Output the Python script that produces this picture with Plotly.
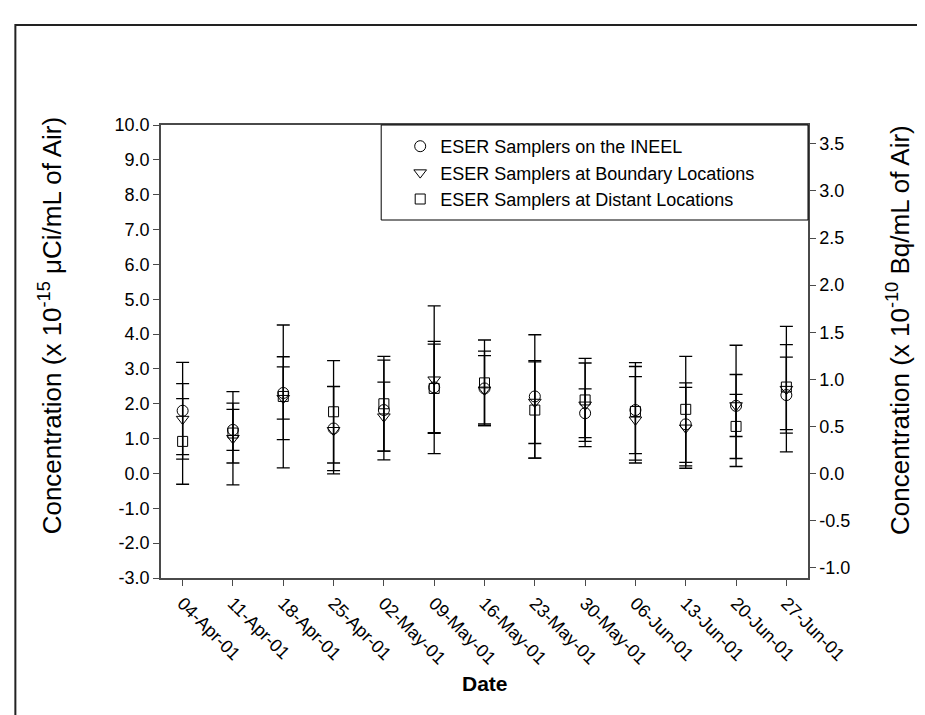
import plotly.graph_objects as go

dates = ["04-Apr-01", "11-Apr-01", "18-Apr-01", "25-Apr-01", "02-May-01", "09-May-01",
         "16-May-01", "23-May-01", "30-May-01", "06-Jun-01", "13-Jun-01", "20-Jun-01", "27-Jun-01"]

ineel_val = [1.80, 1.25, 2.31, 1.29, 1.82, 2.47, 2.44, 2.21, 1.73, 1.82, 1.41, 1.94, 2.25]
ineel_err = [1.39, 0.59, 0.75, 1.21, 1.43, 1.32, 1.07, 1.77, 0.70, 1.25, 1.19, 1.74, 1.09]

boundary_val = [1.56, 1.01, 2.16, 1.24, 1.63, 2.69, 2.40, 2.05, 1.97, 1.54, 1.31, 1.95, 2.42]
boundary_err = [1.02, 1.34, 1.19, 1.25, 0.99, 2.12, 0.98, 1.19, 1.20, 1.24, 1.16, 0.89, 1.80]

distant_val = [0.92, 1.16, 2.21, 1.77, 2.00, 2.44, 2.60, 1.82, 2.11, 1.78, 1.84, 1.35, 2.48]
distant_err = [1.23, 0.86, 2.05, 1.47, 1.36, 1.27, 1.23, 1.38, 1.19, 1.40, 1.52, 0.92, 1.22]

names = ["ESER Samplers on the INEEL", "ESER Samplers at Boundary Locations",
         "ESER Samplers at Distant Locations"]

left_ticks = [-3.0, -2.0, -1.0, 0.0, 1.0, 2.0, 3.0, 4.0, 5.0, 6.0, 7.0, 8.0, 9.0, 10.0]
left_labels = ["-3.0", "-2.0", "-1.0", "0.0", "1.0", "2.0", "3.0", "4.0", "5.0", "6.0",
               "7.0", "8.0", "9.0", "10.0"]
right_ticks = [-1.0, -0.5, 0.0, 0.5, 1.0, 1.5, 2.0, 2.5, 3.0, 3.5]
right_labels = ["-1.0", "-0.5", "0.0", "0.5", "1.0", "1.5", "2.0", "2.5", "3.0", "3.5"]

left_range = [-3.0, 10.0]
conv = 0.37  # 1e-15 uCi = 0.37e-10 Bq

# pixel layout helpers
PL, PR, PT, PB = 152.7, 800.0, 117.0, 570.0
def px(x):
    return (x - PL) / (PR - PL)
def py(y):
    return (PB - y) / (PB - PT)

fig = go.Figure()
series = [(ineel_val, ineel_err, "circle-open", 11),
          (boundary_val, boundary_err, "triangle-down-open", 11),
          (distant_val, distant_err, "square-open", 10)]
for (vals, errs, sym, sz), nm in zip(series, names):
    fig.add_trace(go.Scatter(
        x=dates, y=vals, mode="markers", name=nm,
        marker=dict(symbol=sym, size=sz, color="black", line=dict(width=1, color="black")),
        error_y=dict(type="data", array=errs, visible=True, color="black", thickness=1.3, width=6.5),
    ))

# right axis companion (same data on the Bq scale, invisible)
fig.add_trace(go.Scatter(x=dates, y=[v * conv for v in ineel_val], yaxis="y2",
                         mode="markers", marker=dict(opacity=0), showlegend=False, hoverinfo="skip"))

axis_col = "#4a4a4a"
fig.update_layout(
    width=925, height=715,
    margin=dict(l=PL, r=925 - PR, t=PT, b=715 - PB),
    paper_bgcolor="white", plot_bgcolor="white",
    font=dict(family="Liberation Sans, Arial, sans-serif", color="black", size=18),
    showlegend=True,
    legend=dict(x=px(392), y=py(120), xanchor="left", yanchor="top",
                bgcolor="rgba(0,0,0,0)", borderwidth=0,
                font=dict(size=18, color="black"), tracegroupgap=0),
    xaxis=dict(type="category", range=[-0.43, 12.43], showgrid=False, zeroline=False,
               showline=True, linecolor=axis_col, linewidth=1.5, mirror=True,
               ticks="outside", ticklen=6, tickcolor=axis_col, tickangle=45,
               tickfont=dict(size=18), title=None),
    yaxis=dict(range=left_range, tickvals=left_ticks, ticktext=left_labels,
               showgrid=False, zeroline=False,
               showline=True, linecolor=axis_col, linewidth=1.5, mirror=True,
               ticks="outside", ticklen=6, tickcolor=axis_col, tickfont=dict(size=18)),
    yaxis2=dict(range=[left_range[0] * conv, left_range[1] * conv],
                tickvals=right_ticks, ticktext=right_labels,
                overlaying="y", side="right", showgrid=False, zeroline=False,
                showline=True, linecolor=axis_col, linewidth=1.5,
                ticks="outside", ticklen=6, tickcolor=axis_col, tickfont=dict(size=18)),
    shapes=[
        dict(type="rect", xref="paper", yref="paper", x0=px(373), x1=px(800), y0=py(212), y1=py(117),
             line=dict(color="black", width=1), fillcolor="rgba(0,0,0,0)", layer="above"),
        dict(type="rect", xref="paper", yref="paper", x0=px(7), x1=px(940), y0=py(730), y1=py(17),
             line=dict(color="#222222", width=2), fillcolor="rgba(0,0,0,0)", layer="below"),
    ],
    annotations=[
        dict(text="Concentration (x 10<sup>-15</sup> μCi/mL of Air)", xref="paper", yref="paper",
             x=px(42), y=py(318), textangle=-90, showarrow=False, font=dict(size=26),
             xanchor="center", yanchor="middle"),
        dict(text="Concentration (x 10<sup>-10</sup> Bq/mL of Air)", xref="paper", yref="paper",
             x=px(890), y=py(322), textangle=-90, showarrow=False, font=dict(size=26),
             xanchor="center", yanchor="middle"),
        dict(text="<b>Date</b>", xref="paper", yref="paper", x=0.5, y=py(675),
             showarrow=False, font=dict(size=21), xanchor="center", yanchor="middle"),
    ],
)

fig.write_html("out.html")
